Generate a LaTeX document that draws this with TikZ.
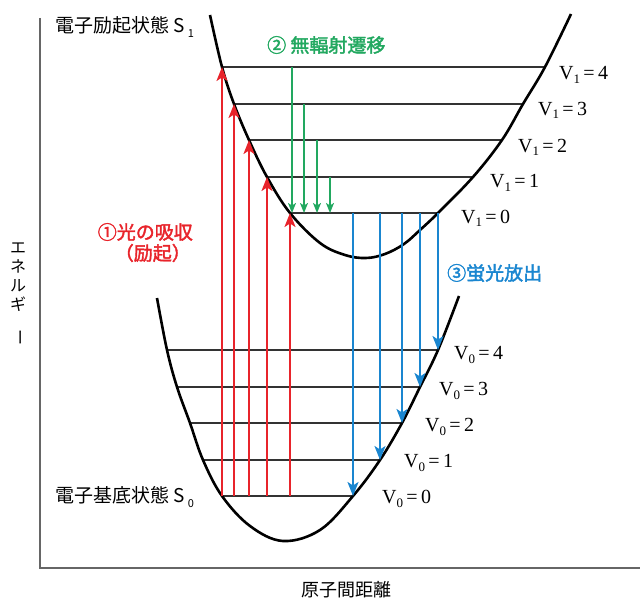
\documentclass[tikz,border=0pt]{standalone}
\usepackage{fontspec}
\usepackage{graphicx}
\setmainfont{Liberation Serif}
\newfontfamily\jp{Noto Sans CJK JP}
\newfontfamily\jpb{Noto Sans CJK JP}[FakeBold=2]
\usetikzlibrary{arrows.meta}
\definecolor{myred}{HTML}{E8242B}
\definecolor{mygreen}{HTML}{22A860}
\definecolor{myblue}{HTML}{1A86D0}
\definecolor{levelgray}{HTML}{333333}
\definecolor{axisgray}{HTML}{666666}
\begin{document}
\begin{tikzpicture}[x=1pt,y=-1pt,
  curve/.style={line width=2.6pt,black},
  level/.style={line width=1.2pt,levelgray},
  axis/.style={line width=1.2pt,axisgray},
  redarr/.style={line width=1.7pt,myred,-{Stealth[length=14pt,width=11pt,inset=3.5pt]}},
  greenarr/.style={line width=1.5pt,mygreen,-{Stealth[length=10pt,width=8pt,inset=2.5pt]}},
  bluearr/.style={line width=1.7pt,myblue,-{Stealth[length=14pt,width=11pt,inset=3.5pt]}},
  vlab/.style={font=\fontsize{20}{20}\selectfont,anchor=west,inner sep=0pt},
  jplab/.style={font=\jp\fontsize{19}{19}\selectfont,inner sep=0pt},
  tag/.style={font=\jpb\fontsize{19}{22}\selectfont,inner sep=0pt}]
\useasboundingbox (0,0) rectangle (640,599);
% axes
\coordinate (otop) at (40,18);
\coordinate (o) at (40,568);
\coordinate (xend) at (640,568);
\draw[axis] (otop) -- (o) -- (xend);
% S1 levels
\foreach \n/\y/\xl/\xr in {4/67/222/545, 3/104/234/523, 2/140/249/502, 1/177/267/473, 0/213/290/438}{
  \coordinate (aL\n) at (\xl,\y);
  \coordinate (aR\n) at (\xr,\y);
  \draw[level] (aL\n) -- (aR\n);
}
% S0 levels
\foreach \n/\y/\xl/\xr in {4/350/167/438, 3/387/177/420, 2/423/190/402, 1/460/203/380, 0/496/222/353}{
  \coordinate (bL\n) at (\xl,\y);
  \coordinate (bR\n) at (\xr,\y);
  \draw[level] (bL\n) -- (bR\n);
}
% curves
\draw[curve] plot[smooth,tension=0.6] coordinates {(210,15) (222,67) (234,104) (249,140) (267,177) (290,213) (320,243) (345,255) (366,258) (385,254) (404,244) (420,230) (438,213) (473,177) (502,140) (523,104) (545,67) (571,14)};
\draw[curve] plot[smooth,tension=0.6] coordinates {(157,298) (167,350) (177,387) (190,423) (203,460) (222,496) (250,526) (283,541) (320,530) (353,496) (380,460) (402,423) (420,387) (438,350) (459,296)};
% red absorption arrows
\foreach \n/\x in {4/222,3/234,2/249,1/267,0/290}{
  \coordinate (rs\n) at (\x,496);
  \draw[redarr] (rs\n) -- (aL\n);
}
% green non-radiative arrows
\foreach \n/\x/\y in {4/292/67,3/304/104,2/317/140,1/330/177}{
  \coordinate (gs\n) at (\x,\y);
  \coordinate (ge\n) at (\x,213);
  \draw[greenarr] (gs\n) -- (ge\n);
}
% blue fluorescence arrows
\foreach \n/\x in {0/353,1/380,2/402,3/420,4/438}{
  \coordinate (bs\n) at (\x,213);
  \draw[bluearr] (bs\n) -- (bR\n);
}
% level labels
\node[vlab] (v14) at (559,75) {V\raisebox{-0.35ex}{\fontsize{13}{13}\selectfont 1}\,=\,4};
\node[vlab] (v13) at (538,110) {V\raisebox{-0.35ex}{\fontsize{13}{13}\selectfont 1}\,=\,3};
\node[vlab] (v12) at (518,147) {V\raisebox{-0.35ex}{\fontsize{13}{13}\selectfont 1}\,=\,2};
\node[vlab] (v11) at (490,183) {V\raisebox{-0.35ex}{\fontsize{13}{13}\selectfont 1}\,=\,1};
\node[vlab] (v10) at (461,218) {V\raisebox{-0.35ex}{\fontsize{13}{13}\selectfont 1}\,=\,0};
\node[vlab] (v04) at (454,355) {V\raisebox{-0.35ex}{\fontsize{13}{13}\selectfont 0}\,=\,4};
\node[vlab] (v03) at (439,391) {V\raisebox{-0.35ex}{\fontsize{13}{13}\selectfont 0}\,=\,3};
\node[vlab] (v02) at (425,427) {V\raisebox{-0.35ex}{\fontsize{13}{13}\selectfont 0}\,=\,2};
\node[vlab] (v01) at (404,463) {V\raisebox{-0.35ex}{\fontsize{13}{13}\selectfont 0}\,=\,1};
\node[vlab] (v00) at (382,499) {V\raisebox{-0.35ex}{\fontsize{13}{13}\selectfont 0}\,=\,0};
% state labels
\node[jplab,anchor=west] (s1) at (55,27) {電子励起状態 S\,\raisebox{-0.4ex}{\fontsize{11}{11}\selectfont 1}};
\node[jplab,anchor=west] (s0) at (55,497) {電子基底状態 S\,\raisebox{-0.4ex}{\fontsize{11}{11}\selectfont 0}};
% process labels
\node[tag,myred,anchor=east] (t1a) at (193,232) {①光の吸収};
\node[tag,myred,anchor=east] (t1b) at (191,253) {（励起）};
\node[tag,mygreen,anchor=west] (t2) at (267,45) {② 無輻射遷移};
\node[tag,myblue,anchor=west] (t3) at (447,273) {③蛍光放出};
% axis labels
\node[jplab,font=\jp\fontsize{18}{18}\selectfont] (xl) at (346,590) {原子間距離};
\node[font=\jp\fontsize{16}{19}\selectfont,align=center,inner sep=0pt,anchor=north] (yl) at (18,243) {エ\\ネ\\ル\\ギ\\\rotatebox{-90}{ー}};
\end{tikzpicture}
\end{document}
